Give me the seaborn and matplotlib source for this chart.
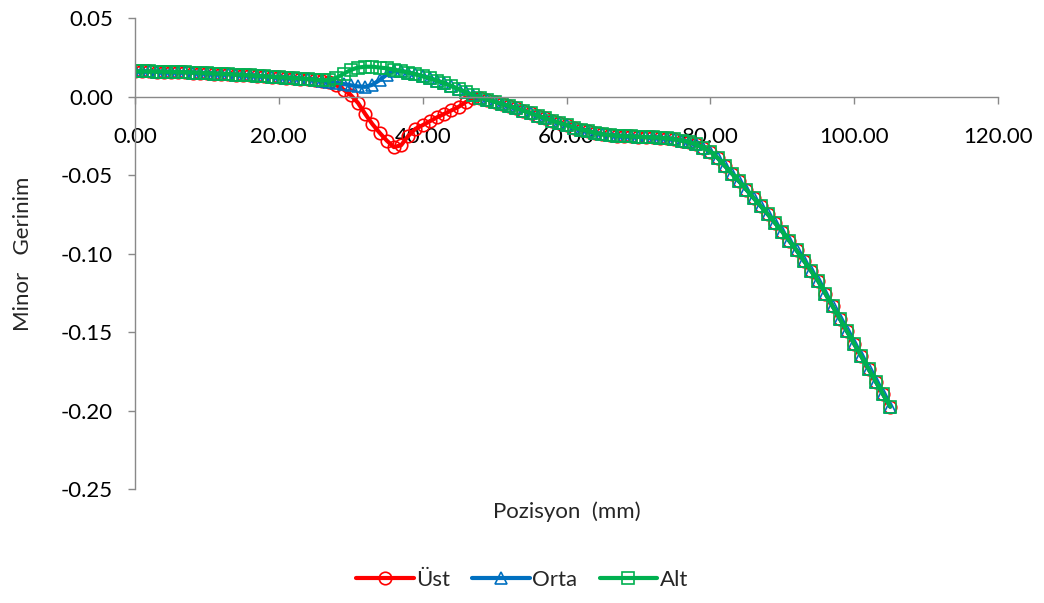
import matplotlib
matplotlib.use("Agg")
import matplotlib.pyplot as plt
import seaborn as sns

# ----------------------------
# DATA
# ----------------------------

pozisyon = [0, 1, 2, 3, 4, 5, 6, 7, 8, 9,
            10, 11, 12, 13, 14, 15, 16, 17, 18, 19,
            20, 21, 22, 23, 24, 25, 26, 27, 28, 29,
            30, 31, 32, 33, 34, 35, 36, 37, 38, 39,
            40, 41, 42, 43, 44, 45, 46, 47, 48, 49,
            50, 51, 52, 53, 54, 55, 56, 57, 58, 59,
            60, 61, 62, 63, 64, 65, 66, 67, 68, 69,
            70, 71, 72, 73, 74, 75, 76, 77, 78, 79,
            80, 81, 82, 83, 84, 85, 86, 87, 88, 89,
            90, 91, 92, 93, 94, 95, 96, 97, 98, 99,
            100, 101, 102, 103, 104, 105]

ust = [0.0160, 0.0160, 0.0160, 0.0159, 0.0158, 0.0157, 0.0156, 0.0155, 0.0153, 0.0151,
       0.0149, 0.0147, 0.0145, 0.0143, 0.0140, 0.0138, 0.0135, 0.0132, 0.0129, 0.0126,
       0.0124, 0.0121, 0.0118, 0.0115, 0.0112, 0.0107, 0.0100, 0.0090, 0.0072, 0.0045,
       0.0010, -0.0040, -0.0110, -0.0175, -0.0230, -0.0280, -0.0322, -0.0310, -0.0250, -0.0205,
       -0.0182, -0.0157, -0.0132, -0.0110, -0.0088, -0.0065, -0.0035, -0.0010, -0.0007, -0.0020,
       -0.0033, -0.0046, -0.0060, -0.0075, -0.0090, -0.0106, -0.0122, -0.0138, -0.0153, -0.0168,
       -0.0182, -0.0197, -0.0210, -0.0220, -0.0232, -0.0240, -0.0245, -0.0249, -0.0252, -0.0254,
       -0.0256, -0.0258, -0.0260, -0.0262, -0.0266, -0.0272, -0.0280, -0.0290, -0.0305, -0.0325,
       -0.0350, -0.0390, -0.0440, -0.0490, -0.0540, -0.0592, -0.0645, -0.0697, -0.0750, -0.0805,
       -0.0860, -0.0920, -0.0980, -0.1045, -0.1110, -0.1175, -0.1255, -0.1335, -0.1415, -0.1495,
       -0.1575, -0.1655, -0.1735, -0.1815, -0.1895, -0.1975]

orta = [0.0160, 0.0160, 0.0160, 0.0159, 0.0158, 0.0157, 0.0156, 0.0155, 0.0153, 0.0151,
        0.0149, 0.0147, 0.0145, 0.0143, 0.0140, 0.0138, 0.0135, 0.0132, 0.0129, 0.0126,
        0.0124, 0.0121, 0.0118, 0.0115, 0.0112, 0.0108, 0.0102, 0.0095, 0.0088, 0.0080,
        0.0072, 0.0065, 0.0062, 0.0075, 0.0105, 0.0140, 0.0165, 0.0163, 0.0153, 0.0142,
        0.0130, 0.0116, 0.0101, 0.0085, 0.0067, 0.0047, 0.0027, 0.0009, -0.0007, -0.0020,
        -0.0033, -0.0046, -0.0060, -0.0075, -0.0090, -0.0106, -0.0122, -0.0138, -0.0153, -0.0168,
        -0.0182, -0.0197, -0.0210, -0.0220, -0.0232, -0.0240, -0.0245, -0.0249, -0.0252, -0.0254,
        -0.0256, -0.0258, -0.0260, -0.0262, -0.0266, -0.0272, -0.0280, -0.0290, -0.0305, -0.0325,
        -0.0350, -0.0390, -0.0440, -0.0490, -0.0540, -0.0592, -0.0645, -0.0697, -0.0750, -0.0805,
        -0.0860, -0.0920, -0.0980, -0.1045, -0.1110, -0.1175, -0.1255, -0.1335, -0.1415, -0.1495,
        -0.1575, -0.1655, -0.1735, -0.1815, -0.1895, -0.1975]

alt = [0.0160, 0.0160, 0.0160, 0.0159, 0.0158, 0.0157, 0.0156, 0.0155, 0.0153, 0.0151,
       0.0149, 0.0147, 0.0145, 0.0143, 0.0140, 0.0138, 0.0135, 0.0132, 0.0129, 0.0126,
       0.0124, 0.0121, 0.0118, 0.0115, 0.0112, 0.0108, 0.0103, 0.0105, 0.0120, 0.0145,
       0.0170, 0.0185, 0.0190, 0.0190, 0.0185, 0.0180, 0.0172, 0.0163, 0.0153, 0.0142,
       0.0130, 0.0116, 0.0101, 0.0085, 0.0067, 0.0047, 0.0027, 0.0009, -0.0007, -0.0020,
       -0.0033, -0.0046, -0.0060, -0.0075, -0.0090, -0.0106, -0.0122, -0.0138, -0.0153, -0.0168,
       -0.0182, -0.0197, -0.0210, -0.0220, -0.0232, -0.0240, -0.0245, -0.0249, -0.0252, -0.0254,
       -0.0256, -0.0258, -0.0260, -0.0262, -0.0266, -0.0272, -0.0280, -0.0290, -0.0305, -0.0325,
       -0.0350, -0.0390, -0.0440, -0.0490, -0.0540, -0.0592, -0.0645, -0.0697, -0.0750, -0.0805,
       -0.0860, -0.0920, -0.0980, -0.1045, -0.1110, -0.1175, -0.1255, -0.1335, -0.1415, -0.1495,
       -0.1575, -0.1655, -0.1735, -0.1815, -0.1895, -0.1975]

x_ticks = [0, 20, 40, 60, 80, 100, 120]
x_tick_labels = ["0.00", "20.00", "40.00", "60.00", "80.00", "100.00", "120.00"]
y_ticks = [0.05, 0.0, -0.05, -0.10, -0.15, -0.20, -0.25]
y_tick_labels = ["0.05", "0.00", "-0.05", "-0.10", "-0.15", "-0.20", "-0.25"]

# ----------------------------
# STYLE
# ----------------------------

sns.set_style("white")
plt.rcParams['font.family'] = ['Lato', 'DejaVu Sans']
fs = 16

fig = plt.figure(figsize=(10.44, 6.03), dpi=100)
ax = fig.add_axes([0.1293, 0.189, 0.8267, 0.781])

line_kw = dict(linewidth=3.0, markersize=9, markeredgewidth=1.2)

sns.lineplot(x=pozisyon, y=ust, ax=ax, color='#FF0000', marker='o',
             markerfacecolor='none', markeredgecolor='#FF0000', label='Üst', **line_kw)
sns.lineplot(x=pozisyon, y=orta, ax=ax, color='#0070C0', marker='^',
             markerfacecolor='none', markeredgecolor='#0070C0', label='Orta', **line_kw)
sns.lineplot(x=pozisyon, y=alt, ax=ax, color='#00B050', marker='s',
             markerfacecolor='none', markeredgecolor='#00B050', label='Alt', **line_kw)

ax.set_xlim(0, 120)
ax.set_ylim(-0.25, 0.05)
ax.set_xticks(x_ticks, labels=x_tick_labels)
ax.set_yticks(y_ticks, labels=y_tick_labels)

for side in ['top', 'right']:
    ax.spines[side].set_visible(False)
for side in ['left', 'bottom']:
    ax.spines[side].set_color('#898989')
    ax.spines[side].set_linewidth(1.0)
ax.spines['bottom'].set_position(('data', 0))

ax.tick_params(axis='x', bottom=True, direction='out', length=5, width=1.0,
               color='#898989', pad=17, labelsize=fs, labelcolor='black')
ax.tick_params(axis='y', left=True, direction='out', length=5, width=1.0,
               color='#898989', pad=11, labelsize=fs, labelcolor='black')

ax.set_xlabel('Pozisyon  (mm)', fontsize=fs)
ax.xaxis.set_label_coords(0.5, -0.026)
ax.set_ylabel('Minor   Gerinim', fontsize=fs)
ax.yaxis.set_label_coords(-0.118, 0.5)

ax.get_legend().remove()
handles, labels = ax.get_legend_handles_labels()
fig.legend(handles, labels, loc='center', bbox_to_anchor=(0.5, 0.038), ncol=3,
           frameon=False, fontsize=fs, handlelength=2.6, handletextpad=0.1,
           columnspacing=1.0)

plt.savefig('out.png', dpi=100)
